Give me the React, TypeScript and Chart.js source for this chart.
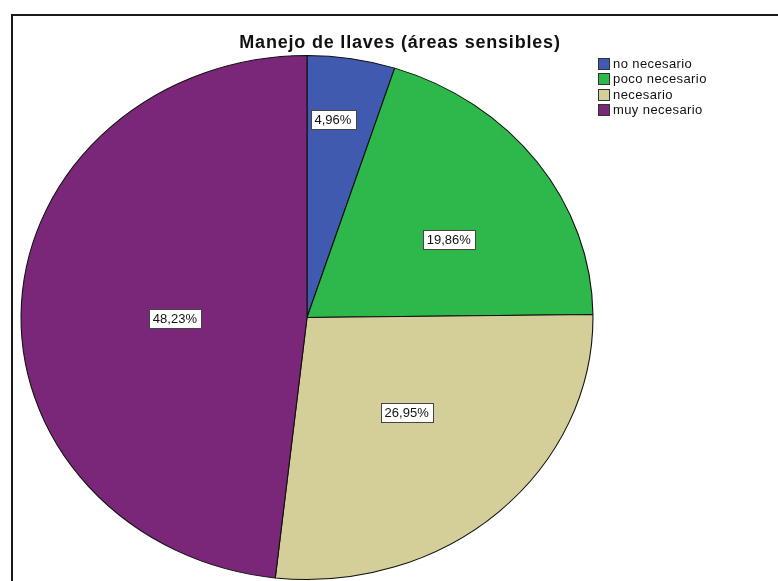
import React, { useEffect, useRef } from "react";
import { Chart, registerables } from "chart.js";

Chart.register(...registerables);

const titleText = "Manejo de llaves (áreas sensibles)";
const categories = ["no necesario", "poco necesario", "necesario", "muy necesario"];
const percentages = [4.96, 19.86, 26.95, 48.23];
const sliceColors = ["#3F5AAE", "#2EB84B", "#D4CF98", "#7B2779"];
const valueLabels = ["4,96%", "19,86%", "26,95%", "48,23%"];

const X_STRETCH = 286.5 / 262.5;
const LABEL_RADIUS = [0.763, 0.579, 0.504, 0.462];
const LABEL_ANGLE_SHIFT = [-2.1, 5.3, -1.6, -3.5];

const ellipsePlugin = {
  id: "ellipse",
  beforeDatasetsDraw(chart: any) {
    const meta = chart.getDatasetMeta(0);
    const cx = meta.data[0].x;
    const ctx = chart.ctx;
    ctx.save();
    ctx.translate(cx, 0);
    ctx.scale(X_STRETCH, 1);
    ctx.translate(-cx, 0);
  },
  afterDatasetsDraw(chart: any) {
    chart.ctx.restore();
  },
};

const decorPlugin = {
  id: "decor",
  afterDraw(chart: any) {
    const ctx = chart.ctx;
    const meta = chart.getDatasetMeta(0);
    // value labels
    ctx.save();
    ctx.font = "13px 'Liberation Sans', Arial, sans-serif";
    ctx.textAlign = "center";
    ctx.textBaseline = "middle";
    meta.data.forEach((arc: any, i: number) => {
      const mid = (arc.startAngle + arc.endAngle) / 2 + (LABEL_ANGLE_SHIFT[i] * Math.PI) / 180;
      const r = arc.outerRadius * LABEL_RADIUS[i];
      const px = arc.x + Math.cos(mid) * r * X_STRETCH;
      const py = arc.y + Math.sin(mid) * r;
      const txt = valueLabels[i];
      const w = ctx.measureText(txt).width + 8;
      const h = 19;
      ctx.fillStyle = "#ffffff";
      ctx.fillRect(Math.round(px - w / 2), Math.round(py - h / 2), Math.round(w), h);
      ctx.strokeStyle = "#444444";
      ctx.lineWidth = 1;
      ctx.strokeRect(Math.round(px - w / 2) + 0.5, Math.round(py - h / 2) + 0.5, Math.round(w), h);
      ctx.fillStyle = "#111111";
      ctx.fillText(txt, px, py + 1);
    });
    ctx.restore();

    // title
    ctx.save();
    ctx.font = "bold 18px 'Liberation Sans', Arial, sans-serif";
    (ctx as any).letterSpacing = "0.8px";
    ctx.fillStyle = "#111111";
    ctx.textAlign = "center";
    ctx.textBaseline = "alphabetic";
    ctx.fillText(titleText, 400, 48);
    ctx.restore();

    // legend
    ctx.save();
    ctx.font = "13px 'Liberation Sans', Arial, sans-serif";
    (ctx as any).letterSpacing = "0.4px";
    ctx.textBaseline = "middle";
    ctx.textAlign = "left";
    categories.forEach((c, i) => {
      const y = 64 + i * 15.3;
      ctx.fillStyle = sliceColors[i];
      ctx.fillRect(598, Math.round(y - 6), 11, 11);
      ctx.strokeStyle = "#333333";
      ctx.lineWidth = 1;
      ctx.strokeRect(598.5, Math.round(y - 6) + 0.5, 11, 11);
      ctx.fillStyle = "#111111";
      ctx.fillText(c, 613, y + 0.5);
    });
    ctx.restore();
  },
};

export default function App() {
  const ref = useRef<HTMLCanvasElement | null>(null);
  useEffect(() => {
    if (!ref.current) return;
    const chart = new Chart(ref.current, {
      type: "pie",
      data: {
        labels: categories,
        datasets: [
          {
            data: percentages,
            backgroundColor: sliceColors,
            borderColor: "#111111",
            borderWidth: 1,
          },
        ],
      },
      options: {
        responsive: false,
        animation: false,
        devicePixelRatio: 1,
        layout: { padding: { left: 44.5, right: 208.5, top: 55, bottom: 1 } },
        plugins: {
          legend: { display: false },
          title: { display: false },
          tooltip: { enabled: false },
        },
      },
      plugins: [ellipsePlugin, decorPlugin],
    });
    return () => chart.destroy();
  }, []);

  return (
    <div style={{ position: "fixed", left: 0, top: 0, width: 778, height: 581, overflow: "hidden", background: "#fff" }}>
      <div
        style={{
          position: "absolute",
          left: 11,
          top: 14,
          width: 820,
          height: 620,
          border: "2px solid #1a1a1a",
          boxSizing: "border-box",
        }}
      />
      <canvas ref={ref} width={778} height={581} style={{ position: "absolute", left: 0, top: 0, width: 778, height: 581 }} />
    </div>
  );
}
